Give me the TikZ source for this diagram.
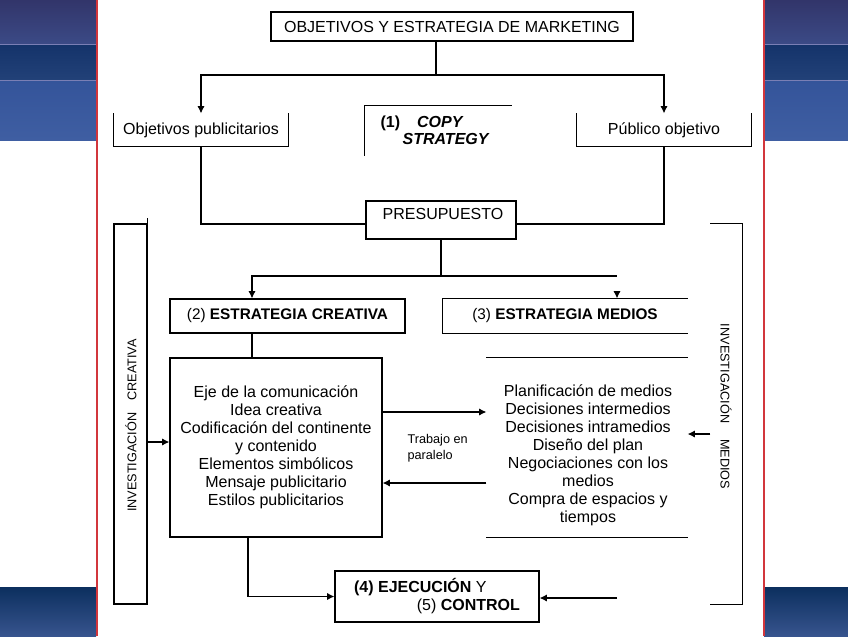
\documentclass[tikz,border=0pt]{standalone}
\usepackage{fontspec}
\setmainfont{Liberation Sans}
\usetikzlibrary{arrows.meta,positioning}
\definecolor{bandAtop}{HTML}{32356A}
\definecolor{bandAbot}{HTML}{3B4A86}
\definecolor{bandBtop}{HTML}{14336A}
\definecolor{bandBbot}{HTML}{224178}
\definecolor{bandCtop}{HTML}{34549A}
\definecolor{bandCbot}{HTML}{3F5EA2}
\definecolor{bandline}{HTML}{7A7FB5}
\definecolor{foottop}{HTML}{0C2F5E}
\definecolor{footbot}{HTML}{37548E}
\definecolor{slidered}{HTML}{D2363C}

\begin{document}
\begin{tikzpicture}[x=0.75pt,y=-0.75pt,line width=0.9pt,
		>={Latex[length=5.5pt,width=5.5pt]},
		every node/.style={font=\fontsize{12}{13.5}\selectfont,inner sep=0pt},
		box node/.style={draw,align=center},
		open node/.style={align=center},
		head text/.style={font=\fontsize{11.5}{13.5}\selectfont},
		side text/.style={font=\fontsize{9.5}{11}\selectfont},
		small text/.style={font=\fontsize{9.5}{12}\selectfont,align=left}]

		% fondo de la diapositiva
		\useasboundingbox (0,0) rectangle (848,636);
		\fill[white] (0,0) rectangle (848,636);
		\foreach \x/\w in {0/96,764/84} {
			\shade[top color=bandAtop,bottom color=bandAbot] (\x,0) rectangle (\x+\w,44);
			\shade[top color=bandBtop,bottom color=bandBbot] (\x,44) rectangle (\x+\w,80);
			\shade[top color=bandCtop,bottom color=bandCbot] (\x,80) rectangle (\x+\w,140);
			\draw[bandline,line width=0.6pt] (\x,44) -- (\x+\w,44) (\x,80) -- (\x+\w,80);
			\shade[top color=foottop,bottom color=footbot] (\x,587) rectangle (\x+\w,636);
		}
		\draw[slidered,line width=1.5pt] (96.5,0) -- (96.5,636) (763.5,0) -- (763.5,636);

		% cajas
		\node[box node,minimum width=271.5pt,minimum height=21.75pt] (mkt) at (452,26.5) {OBJETIVOS Y ESTRATEGIA DE MARKETING};
		\node[open node,minimum width=130.5pt,minimum height=24pt] (objp) at (201,130) {Objetivos publicitarios};
		\node[open node,minimum width=130.5pt,minimum height=24pt] (pub) at (664,130) {Público objetivo};
		\node[open node,minimum width=109.5pt,minimum height=36.75pt] (copy) at (438,130.5) {};
		\node[anchor=north west,align=left,font=\fontsize{12}{12.75}\selectfont] (copytxt) at (380,115)
			{\textbf{(1)}\hspace{12.75pt}\textbf{\textit{COPY}}\\\hspace{16.5pt}\textbf{\textit{STRATEGY}}};
		\node[box node,minimum width=112.5pt,minimum height=28.5pt] (pres) at (441,220) {};
		\node (prestxt) at (443,214) {PRESUPUESTO};
		\node[box node,head text,minimum width=176.25pt,minimum height=25.5pt] (ecrea) at (287.5,316) {(2) \textbf{ESTRATEGIA CREATIVA}};
		\node[open node,head text,minimum width=183pt,minimum height=25.5pt] (emed) at (565,316) {(3) \textbf{ESTRATEGIA MEDIOS}};
		\node[box node,minimum width=159pt,minimum height=134.25pt] (crea) at (276,447.5)
			{Eje de la comunicación\\Idea creativa\\Codificación del continente\\y contenido\\Elementos simbólicos\\Mensaje publicitario\\Estilos publicitarios};
		\node[open node,minimum width=150pt,minimum height=134.25pt] (medbox) at (587,447.5) {};
		\node[open node] (medtxt) at (588,455)
			{Planificación de medios\\Decisiones intermedios\\Decisiones intramedios\\Diseño del plan\\Negociaciones con los\\medios\\Compra de espacios y\\tiempos};
		\node[small text,anchor=west] (trab) at (407,448) {Trabajo en\\paralelo};
		\node[box node,minimum width=24.75pt,minimum height=285pt] (invc) at (130.5,414) {};
		\node[side text,rotate=90] (invctxt) at (131,425.5) {INVESTIGACIÓN\hspace{9pt}CREATIVA};
		\node[open node,minimum width=23.25pt,minimum height=285pt] (invm) at (726.5,414) {};
		\node[side text,rotate=-90] (invmtxt) at (726,406.5) {INVESTIGACIÓN\hspace{12pt}MEDIOS};
		\node[box node,align=left,minimum width=153pt,minimum height=38.25pt] (ejec) at (437,596.5)
			{\textbf{(4) EJECUCIÓN} Y\\\hspace{47pt}(5) \textbf{CONTROL}};

		% marcos abiertos
		\draw (objp.north west) -- (objp.south west) -- (objp.south east) -- (objp.north east);
		\draw (pub.north west) -- (pub.south west) -- (pub.south east) -- (pub.north east);
		\draw (copy.south west) -- (copy.north west) -- (copy.north east);
		\draw (emed.north east) -- (emed.north west) -- (emed.south west) -- (emed.south east);
		\draw (medbox.north west) -- (medbox.north east) (medbox.south west) -- (medbox.south east);
		\draw (invm.north west) -- (invm.north east) -- (invm.south east) -- (invm.south west);
		\draw (invc.north east) -- ++(0,-5);

		% conexiones
		\coordinate (mktsplit) at (436,75);
		\draw (mkt.south -| mktsplit) -- (mktsplit);
		\draw[->] (mktsplit) -| (objp.north);
		\draw[->] (mktsplit) -| (pub.north);
		\draw (objp.south) |- ([yshift=-3pt]pres.west);
		\draw (pub.south) |- ([yshift=-3pt]pres.east);
		\coordinate (preshub) at (441,276);
		\coordinate (creax) at (252,276);
		\coordinate (medx) at (617,276);
		\coordinate (medtip) at (617,291);
		\draw (pres.south) -- (preshub);
		\draw[->] (preshub) -- (creax) -- (ecrea.north -| creax);
		\draw (preshub) -- (medx);
		\draw[->] (medtip) -- (emed.north -| medtip);
		\draw (ecrea.south -| creax) -- (crea.north -| creax);
		\draw[->] (crea.east |- 0,412) -- (medbox.west |- 0,412);
		\draw[->] (medbox.west |- 0,483) -- (crea.east |- 0,483);
		\draw[->] (invc.east |- 0,442) -- (crea.west |- 0,442);
		\draw[->] (invm.west |- 0,434) -- (medbox.east |- 0,434);
		\coordinate (creadown) at (248,598);
		\draw[->] (crea.south -| creadown) |- (ejec.west);
		\coordinate (ctrlin) at (617,598);
		\draw[->] (ctrlin) -- (ejec.east |- ctrlin);

\end{tikzpicture}
\end{document}
